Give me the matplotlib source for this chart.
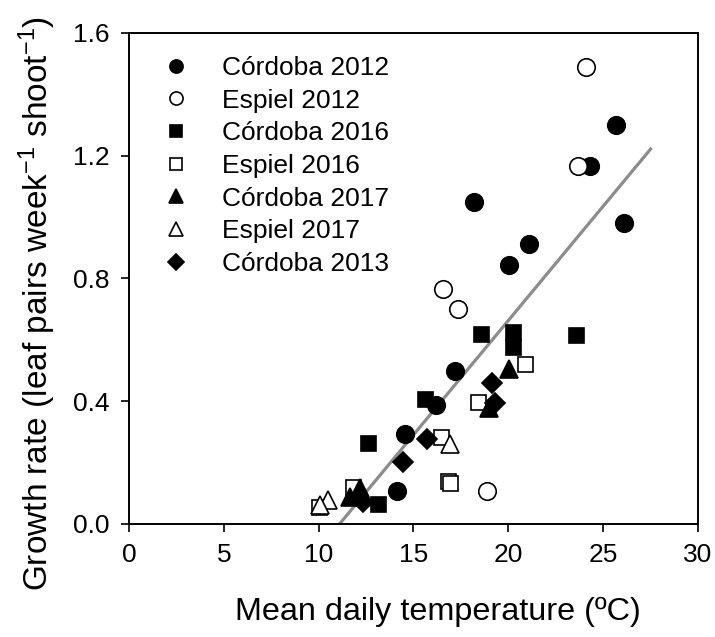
import matplotlib
matplotlib.use('Agg')
import matplotlib.pyplot as plt
import numpy as np

# Córdoba / Espiel growth rate vs mean daily temperature
cordoba_2012_x = [18.2, 25.7, 24.3, 26.1, 21.1, 20.05, 17.2, 16.2, 14.55, 14.15]
cordoba_2012_y = [1.05, 1.30, 1.165, 0.98, 0.912, 0.843, 0.50, 0.388, 0.293, 0.109]

espiel_2012_x = [24.1, 23.7, 16.57, 17.36, 18.85]
espiel_2012_y = [1.49, 1.165, 0.766, 0.70, 0.109]

cordoba_2016_x = [18.55, 20.25, 20.25, 23.55, 15.6, 12.58, 13.15]
cordoba_2016_y = [0.619, 0.627, 0.578, 0.615, 0.407, 0.265, 0.065]

espiel_2016_x = [20.9, 18.38, 16.43, 16.8, 16.95, 11.8, 10.0]
espiel_2016_y = [0.523, 0.398, 0.284, 0.14, 0.135, 0.122, 0.054]

cordoba_2017_x = [20.05, 18.96, 12.2, 11.65]
cordoba_2017_y = [0.504, 0.378, 0.118, 0.088]

espiel_2017_x = [16.92, 10.5, 10.07]
espiel_2017_y = [0.26, 0.078, 0.062]

cordoba_2013_x = [19.15, 19.3, 15.7, 14.43, 12.35]
cordoba_2013_y = [0.458, 0.394, 0.276, 0.203, 0.073]

# regression line
fit_slope = 0.0745
fit_intercept = -0.827
fit_range = [11.1, 27.5]

x_ticks = [0, 5, 10, 15, 20, 25, 30]
y_ticks = [0.0, 0.4, 0.8, 1.2, 1.6]


def main():
    plt.rcParams['font.family'] = ['Liberation Sans', 'DejaVu Sans']
    plt.rcParams['mathtext.fontset'] = 'custom'
    plt.rcParams['mathtext.rm'] = 'Liberation Sans'
    plt.rcParams['mathtext.default'] = 'regular'

    fig = plt.figure(figsize=(7.15, 6.37), dpi=100)
    ax = fig.add_axes([0.1804, 0.1774, 0.9762 - 0.1804, 0.9482 - 0.1774])

    fx = np.array(fit_range)
    ax.plot(fx, fit_slope * fx + fit_intercept, color='#8c8c8c', lw=2.3, zorder=1)

    series = [
        (cordoba_2012_x, cordoba_2012_y, 'o', 'black', 12.6, 'Córdoba 2012'),
        (espiel_2012_x, espiel_2012_y, 'o', 'white', 12.6, 'Espiel 2012'),
        (cordoba_2016_x, cordoba_2016_y, 's', 'black', 10.8, 'Córdoba 2016'),
        (espiel_2016_x, espiel_2016_y, 's', 'white', 10.8, 'Espiel 2016'),
        (cordoba_2017_x, cordoba_2017_y, '^', 'black', 12.5, 'Córdoba 2017'),
        (espiel_2017_x, espiel_2017_y, '^', 'white', 12.5, 'Espiel 2017'),
        (cordoba_2013_x, cordoba_2013_y, 'D', 'black', 10.2, 'Córdoba 2013'),
    ]
    for xs, ys, m, fc, ms, lab in series:
        ax.plot(xs, ys, ls='none', marker=m, ms=ms, mfc=fc, mec='black',
                mew=1.2, label=lab, zorder=3)

    ax.set_xlim(0, 30)
    ax.set_ylim(0, 1.6)
    ax.set_xticks(x_ticks)
    ax.set_xticklabels([str(t) for t in x_ticks])
    ax.set_yticks(y_ticks)
    ax.set_yticklabels(['%.1f' % t for t in y_ticks])
    ax.tick_params(direction='out', length=6, width=1.2, labelsize=19, pad=8)
    for sp in ax.spines.values():
        sp.set_linewidth(1.4)

    ax.set_xlabel('Mean daily temperature (ºC)', fontsize=23.3, labelpad=21)
    ax.set_ylabel('Growth rate (leaf pairs week$^{-1}$ shoot$^{-1}$)',
                  fontsize=24, labelpad=11)
    ax.xaxis.label.set_x(0.543)
    ax.yaxis.label.set_y(0.45)

    ax.legend(loc='upper left', bbox_to_anchor=(0.036, 0.975), frameon=False,
              fontsize=19, markerscale=0.75, handlelength=1.2,
              handletextpad=1.15, labelspacing=0.33, borderaxespad=0)

    fig.savefig('out.png', dpi=100)


if __name__ == '__main__':
    main()
